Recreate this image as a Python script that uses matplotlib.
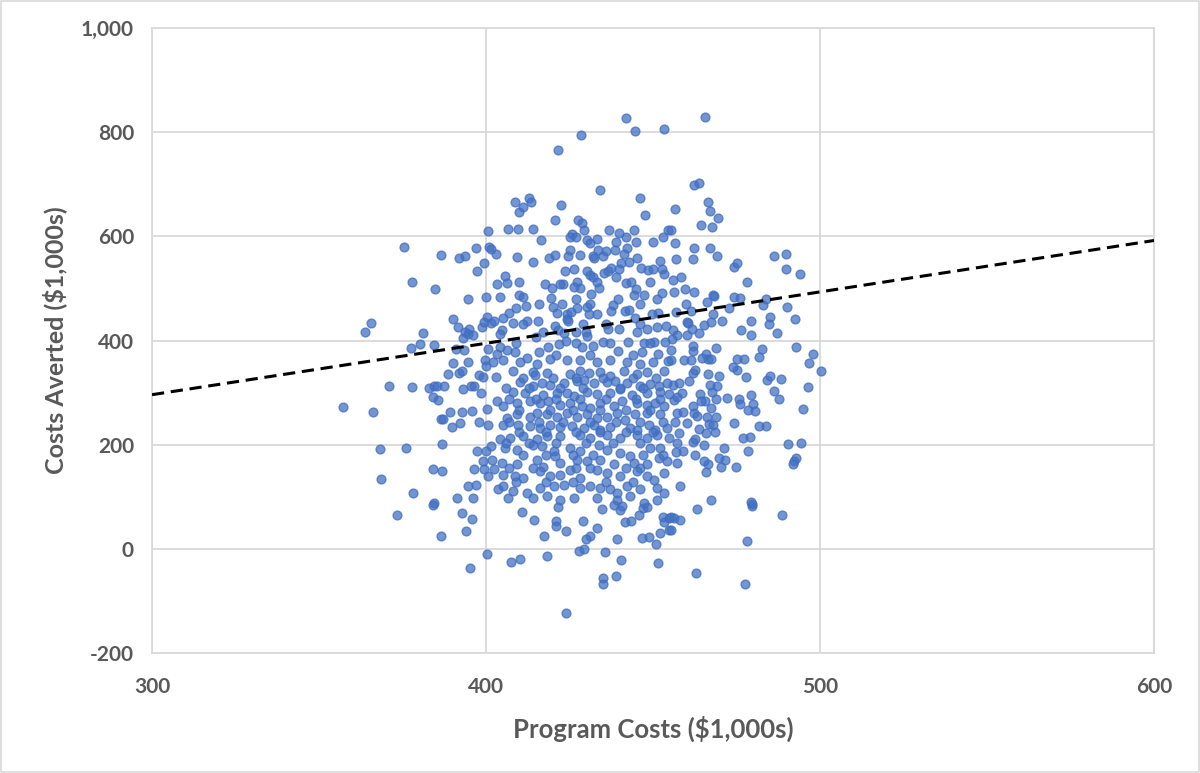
import matplotlib
matplotlib.use("Agg")
import matplotlib.pyplot as plt
from matplotlib.patches import Rectangle
from matplotlib.ticker import FuncFormatter

# Values ($1,000s)
# upper outliers
top_x = [441.9, 444.6, 453.3, 428.4, 421.6, 434.1, 446.1, 447.6, 408.7, 412.9,
         413.5, 411.1, 409.9, 422.5, 420.7, 427.5, 428.7, 429.3, 406.6, 409.6,
         414.1, 436.8, 439.8, 444.3, 454.5, 425.7,
         465.6, 462.3, 463.8, 466.5, 467.1, 469.5, 456.6, 464.4, 467.7, 455.4,
         400.6]
top_y = [827, 802, 806, 794, 765, 688, 673, 640, 665, 673,
         665, 656, 646, 660, 631, 631, 625, 612, 615, 615,
         615, 612, 606, 612, 613, 604,
         829, 698, 702, 665, 648, 635, 652, 621, 617, 613,
         610]

# left side, upper half
left_hi_x = [375.4, 386.5, 391.9, 393.7, 397.0, 400.9, 401.5, 403.0, 399.4, 397.3,
             377.8, 384.7, 394.6, 400.0, 403.3, 390.1, 365.6, 363.8, 381.1, 380.2,
             377.5, 384.4, 391.6, 393.7, 394.9, 394.6, 396.1, 393.1, 398.8, 399.4,
             400.3, 401.5, 402.4, 391.0, 393.4, 400.6, 403.3, 390.1, 394.6, 399.7,
             402.1, 400.0]
left_hi_y = [579, 565, 558, 562, 577, 579, 575, 567, 548, 533,
             512, 498, 479, 483, 508, 442, 433, 417, 415, 394,
             385, 392, 425, 417, 423, 413, 410, 404, 425, 435,
             446, 433, 438, 383, 381, 383, 375, 356, 358, 362,
             358, 352]

# left side, lower half
left_lo_x = [357.2, 366.2, 371.0, 377.8, 382.9, 384.4, 385.3, 387.4, 384.1, 385.6,
             388.6, 391.9, 392.8, 397.9, 399.1, 403.0, 393.1, 395.5, 396.4, 398.5,
             403.3, 389.2, 392.8, 395.8, 400.3, 386.5, 387.1, 392.2, 389.8, 397.9,
             400.6, 386.8, 368.3, 376.0, 397.3, 400.0, 401.5, 399.1, 401.8, 396.4,
             399.4, 402.4, 400.6, 384.1, 386.8, 368.6, 378.1, 394.6, 397.0, 391.3,
             396.1, 384.4, 403.6,
             373.4, 384.1, 392.8, 395.8, 386.5, 394.0, 400.3, 395.2]
left_lo_y = [273, 262, 312, 310, 308, 312, 313, 313, 292, 285,
             335, 338, 342, 333, 329, 329, 306, 313, 313, 300,
             283, 263, 263, 265, 269, 250, 250, 242, 233, 244,
             238, 202, 192, 194, 188, 188, 198, 169, 171, 154,
             154, 154, 140, 154, 150, 135, 108, 121, 123, 98,
             98, 88, 115,
             65, 85, 69, 58, 25, 35, -10, -37]

# bottom
bottom_x = [410.8, 414.4, 421.0, 421.0, 421.6, 417.4, 424.0, 429.0, 433.2, 431.1,
            429.9, 427.8, 429.3, 435.6, 434.7, 440.1, 440.7, 438.3, 439.2, 441.6,
            443.4, 445.8, 447.0, 448.2, 446.7, 448.8, 450.9, 452.1, 453.0, 453.3,
            454.8, 454.8, 407.5, 410.2, 418.3, 440.4, 451.5, 435.0, 435.0, 438.9,
            424.0,
            463.2, 455.4, 456.3, 458.1, 455.4, 479.6, 479.6, 488.6, 478.1, 462.9,
            477.5]
bottom_y = [71, 56, 54, 44, 81, 25, 35, 54, 40, 25,
            19, -4, 0, -6, 77, 75, 83, 85, 19, 52,
            54, 65, 79, 81, 21, 23, 10, 31, 62, 52,
            60, 37, -25, -19, -13, -21, -27, -56, -67, -52,
            -123,
            77, 62, 60, 56, 37, 83, 87, 65, 15, -46,
            -67]

# right side, lower half
right_lo_x = [500.3, 496.4, 494.9, 490.4, 494.3, 492.8, 492.2, 491.9, 486.2, 487.7,
              484.1, 485.0, 488.3, 477.8, 481.7, 483.8, 479.0, 476.9, 478.4, 479.3,
              479.9, 478.4, 480.5, 475.7, 476.0, 472.2, 474.2, 474.9, 471.3, 469.8,
              471.6, 470.4, 466.5, 465.3, 465.9, 458.1, 467.4, 479.3, 462.6, 465.3,
              469.8, 466.5, 469.2, 467.1, 467.7, 468.9, 464.1, 465.6, 467.4, 468.9,
              466.2, 466.8, 468.0, 468.6, 465.9, 463.8, 462.3, 463.2, 462.0, 464.4,
              460.2, 457.8, 457.2, 459.0, 456.9, 457.2, 462.0, 462.6, 457.2, 459.0,
              456.6, 456.3, 457.2, 458.7, 455.9, 457.8, 460.8, 462.0, 462.6, 475.1]
right_lo_y = [342, 310, 269, 202, 204, 175, 169, 163, 304, 288,
              325, 331, 327, 329, 235, 235, 215, 212, 188, 296,
              279, 267, 265, 288, 279, 290, 242, 158, 194, 175,
              171, 158, 162, 169, 148, 121, 94, 90, 181, 200,
              331, 335, 312, 315, 302, 288, 298, 283, 271, 254,
              254, 240, 237, 225, 223, 231, 260, 256, 275, 283,
              242, 223, 204, 188, 185, 165, 206, 210, 260, 263,
              244, 285, 292, 300, 315, 319, 323, 338, 344, 344]

# right side, upper half
right_hi_x = [456.6, 462.3, 467.1, 469.2, 456.9, 462.0, 474.2, 475.1, 486.2, 489.8,
              489.8, 494.0, 478.1, 456.0, 458.4, 456.3, 459.6, 462.3, 468.0, 468.3,
              474.2, 476.0, 466.2, 459.9, 472.8, 482.9, 483.8, 490.1, 461.4, 456.9,
              468.0, 485.0, 492.5, 479.3, 484.7, 470.7, 467.4, 460.2, 460.5, 465.3,
              461.7, 463.8, 476.3, 479.3, 487.1, 456.0, 457.2, 460.2, 455.7, 492.8,
              497.9, 482.6, 481.7, 496.7, 468.9, 465.9, 475.1, 477.2, 474.0, 462.0,
              462.0, 459.3, 461.4, 466.5, 467.4, 464.7, 455.4, 455.4]
right_hi_y = [587, 577, 577, 562, 556, 556, 542, 548, 563, 567,
              537, 527, 513, 517, 521, 494, 498, 494, 488, 485,
              483, 481, 473, 471, 462, 469, 479, 465, 456, 454,
              450, 446, 442, 437, 431, 437, 435, 435, 433, 429,
              423, 415, 421, 410, 415, 421, 410, 410, 402, 387,
              375, 383, 369, 356, 385, 375, 365, 365, 350, 390,
              379, 363, 363, 365, 365, 367, 381, 363]

# centre, upper half
mid_hi_x = [416.5, 425.2, 427.0, 430.2, 433.2, 438.9, 441.9, 444.9, 450.0, 453.0,
            409.3, 414.1, 418.9, 420.7, 424.6, 428.1, 425.2, 431.1, 433.5, 432.0,
            432.3, 435.9, 435.0, 438.6, 442.2, 441.3, 445.2, 442.8, 440.4, 437.4,
            439.8, 446.4, 448.5, 452.1, 452.7, 453.3, 450.0, 423.7, 426.4, 430.2,
            431.1, 432.0, 435.3, 436.5, 438.9, 433.2, 433.8, 428.1, 427.2, 423.1,
            417.7, 419.8, 405.7, 406.3, 404.2, 409.9, 409.9, 411.1, 412.0, 409.0,
            406.9, 405.1, 408.1, 404.8, 404.2, 412.3, 415.6, 417.1, 415.0, 419.5,
            420.1, 421.3, 422.8, 424.3, 425.5, 424.3, 424.6, 427.0, 427.2, 430.2,
            430.8, 433.2, 431.4, 426.4, 422.2, 420.7, 421.6, 423.4, 427.0, 430.0,
            438.0, 437.4, 439.5, 441.6, 442.8, 444.3, 447.3, 444.9, 441.9, 443.4,
            449.1, 451.2, 452.7, 451.5, 449.7, 444.6, 439.8, 436.5, 445.2, 448.2,
            451.2, 453.9, 442.5, 447.3, 450.3, 453.6, 451.5, 446.7, 439.5, 435.0,
            430.2, 432.0, 428.7, 424.0, 421.9, 418.6, 415.9, 412.3, 408.7, 406.3,
            404.2, 405.1, 410.2, 415.3, 419.2, 424.3, 428.1, 433.2, 437.1, 442.2,
            446.1, 450.0, 454.5]
mid_hi_y = [592, 598, 598, 592, 594, 590, 598, 590, 590, 598,
            560, 550, 558, 565, 563, 565, 573, 587, 573, 562,
            558, 571, 562, 573, 577, 567, 558, 550, 548, 540,
            537, 540, 535, 552, 538, 527, 538, 533, 537, 533,
            525, 521, 529, 533, 521, 512, 500, 500, 513, 508,
            508, 500, 523, 510, 483, 513, 488, 483, 467, 462,
            452, 444, 433, 421, 412, 437, 438, 417, 406, 481,
            465, 452, 471, 450, 454, 442, 437, 479, 463, 465,
            450, 450, 490, 502, 508, 427, 421, 415, 417, 417,
            469, 456, 479, 456, 458, 487, 488, 498, 510, 513,
            512, 479, 492, 452, 450, 444, 423, 423, 417, 423,
            425, 427, 398, 396, 398, 398, 375, 377, 379, 398,
            408, 390, 387, 400, 394, 387, 377, 367, 377, 381,
            388, 362, 358, 354, 365, 363, 363, 358, 362, 358,
            354, 358, 360]

# centre, lower half
mid_lo_x = [408.0, 414.2, 414.6, 418.2, 425.2, 428.2, 430.7, 434.2, 437.2, 441.2,
            445.2, 448.2, 453.2,
            410.2, 416.7, 419.2, 423.2, 427.2, 429.2, 432.2, 436.2, 438.7, 442.2,
            446.2, 449.2, 451.7, 454.2,
            408.2, 411.7, 414.2, 417.2, 421.2, 424.2, 426.2, 430.2, 433.2, 437.2,
            440.2, 443.7, 448.2, 452.2, 454.7,
            405.2, 409.2, 413.2, 416.2, 418.7, 422.2, 425.2, 428.7, 431.2, 434.2,
            438.2, 440.7, 445.2, 448.2, 450.7, 453.2,
            406.2, 409.2, 413.2, 415.2, 418.2, 421.2, 424.2, 427.2, 430.2, 433.2,
            436.2, 439.2, 441.7, 444.7, 448.2, 452.2,
            405.2, 409.7, 413.2, 416.2, 419.2, 422.2, 425.7, 429.2, 432.2, 434.2,
            437.2, 443.2, 445.2, 448.7, 450.7, 454.2,
            404.2, 407.2, 411.2, 415.2, 418.2, 422.2, 428.2, 431.2, 436.2, 440.2,
            445.2, 448.2, 451.2, 454.7,
            405.7, 409.2, 414.2, 416.7, 420.2, 425.2, 428.2, 433.7, 436.2, 440.2,
            443.2, 449.2, 452.2,
            404.7, 409.2, 415.2, 417.2, 420.7, 422.2, 427.2, 430.2, 434.2, 438.2,
            444.2, 446.2, 448.2, 451.7, 454.2,
            405.2, 408.7, 411.2, 416.2, 419.2, 422.2, 425.2, 428.2, 433.2, 436.2,
            440.2, 445.2, 448.2, 450.2, 453.2,
            405.2, 408.2, 412.2, 416.2, 420.2, 423.2, 428.2, 431.2, 434.2, 437.2,
            439.2, 442.2, 446.2, 451.2, 453.2,
            406.7, 414.2, 418.2, 422.2, 426.2, 433.2, 439.2, 443.2, 447.2, 451.2]
mid_lo_y = [341, 339, 333, 338, 335, 341, 337, 339, 331, 341,
            335, 339, 341,
            320, 318, 315, 318, 322, 325, 318, 320, 322, 318,
            312, 317, 313, 318,
            302, 299, 312, 296, 300, 299, 293, 302, 298, 299,
            306, 296, 299, 302, 298,
            274, 280, 283, 280, 283, 277, 280, 275, 270, 280,
            274, 283, 280, 277, 280, 274,
            251, 258, 254, 261, 258, 254, 261, 254, 258, 251,
            254, 261, 248, 258, 261, 258,
            238, 238, 235, 232, 238, 234, 236, 232, 238, 229,
            234, 232, 229, 238, 229, 232,
            210, 213, 216, 210, 216, 216, 219, 213, 219, 213,
            219, 213, 219, 213,
            194, 190, 200, 198, 187, 194, 187, 200, 190, 184,
            178, 194, 194,
            165, 162, 171, 158, 178, 165, 171, 168, 171, 162,
            165, 155, 162, 174, 168,
            142, 139, 136, 149, 139, 142, 152, 136, 152, 146,
            139, 149, 139, 133, 146,
            120, 112, 107, 117, 120, 123, 117, 120, 117, 114,
            107, 120, 114, 117, 107,
            98, 98, 101, 94, 98, 98, 94, 101, 88, 94]

# extra points in the crowded core
core_x = [411, 420, 427, 435, 444, 451,
          406, 413, 422, 429, 440, 447,
          407, 415, 421, 428, 436, 445, 452,
          410, 419, 426, 434, 442, 449,
          407, 416, 423, 431, 439, 446, 453,
          410, 418, 427, 434, 442, 450,
          406, 413, 421, 430, 438, 446,
          411, 418, 426, 432, 447, 453,
          407, 414, 427, 431, 442,
          409, 418, 426, 436, 444,
          409, 427, 437, 449,
          411, 429, 436, 446,
          416, 431, 446,
          421, 431, 444]
core_y = [328, 328, 328, 328, 328, 328,
          309, 309, 309, 309, 309, 309,
          288, 288, 288, 288, 288, 288, 288,
          266, 266, 266, 266, 266, 266,
          244, 244, 244, 244, 244, 244, 244,
          224, 224, 224, 224, 224, 224,
          203, 203, 203, 203, 203, 203,
          180, 180, 180, 180, 180, 180,
          155, 155, 155, 155, 155,
          128, 128, 128, 128, 128,
          395, 395, 395, 395,
          432, 432, 432, 432,
          470, 470, 470,
          372, 372, 372]

# dashed trend line
trend_x = [300, 600]
trend_y = [296, 592]

x_ticks = [300, 400, 500, 600]
y_ticks = [-200, 0, 200, 400, 600, 800, 1000]

program_costs = (top_x + left_hi_x + left_lo_x + bottom_x + right_lo_x
                 + right_hi_x + mid_hi_x + mid_lo_x + core_x)
costs_averted = (top_y + left_hi_y + left_lo_y + bottom_y + right_lo_y
                 + right_hi_y + mid_hi_y + mid_lo_y + core_y)

plt.rcParams["font.family"] = ["Lato", "DejaVu Sans"]
label_grey = "#595959"

fig = plt.figure(figsize=(12, 7.73), dpi=100)
ax = fig.add_axes([0.1267, 0.1552, 0.835, 0.8086])

ax.scatter(program_costs, costs_averted, s=40, color="#4472C4", alpha=0.75,
           edgecolors="#3E6DC0", linewidths=1.0, zorder=3)
ax.plot(trend_x, trend_y, color="black", linewidth=2.2, linestyle=(0, (4, 2.2)),
        zorder=4)

ax.set_xlim(300, 600)
ax.set_ylim(-200, 1000)
ax.set_xticks(x_ticks)
ax.set_yticks(y_ticks)
ax.yaxis.set_major_formatter(FuncFormatter(lambda v, p: f"{v:,.0f}"))
ax.grid(True, color="#D9D9D9", linewidth=1.3, zorder=0)
ax.set_axisbelow(True)
for side in ax.spines.values():
    side.set_color("#D9D9D9")
    side.set_linewidth(1.3)
ax.tick_params(length=0, labelsize=15, labelcolor=label_grey)
ax.tick_params(axis="y", pad=13)
ax.tick_params(axis="x", pad=17)
for lbl in ax.get_xticklabels() + ax.get_yticklabels():
    lbl.set_fontweight("bold")

ax.set_xlabel("Program Costs ($1,000s)", fontsize=18.5, fontweight="bold",
              color=label_grey, labelpad=14)
ax.set_ylabel("Costs Averted ($1,000s)", fontsize=18, fontweight="bold",
              color=label_grey, labelpad=10)

fig.patches.append(Rectangle((0.001, 0.001), 0.998, 0.998, transform=fig.transFigure,
                             fill=False, edgecolor="#D9D9D9", linewidth=1.2))

fig.savefig("out.png", dpi=100)
plt.close(fig)
